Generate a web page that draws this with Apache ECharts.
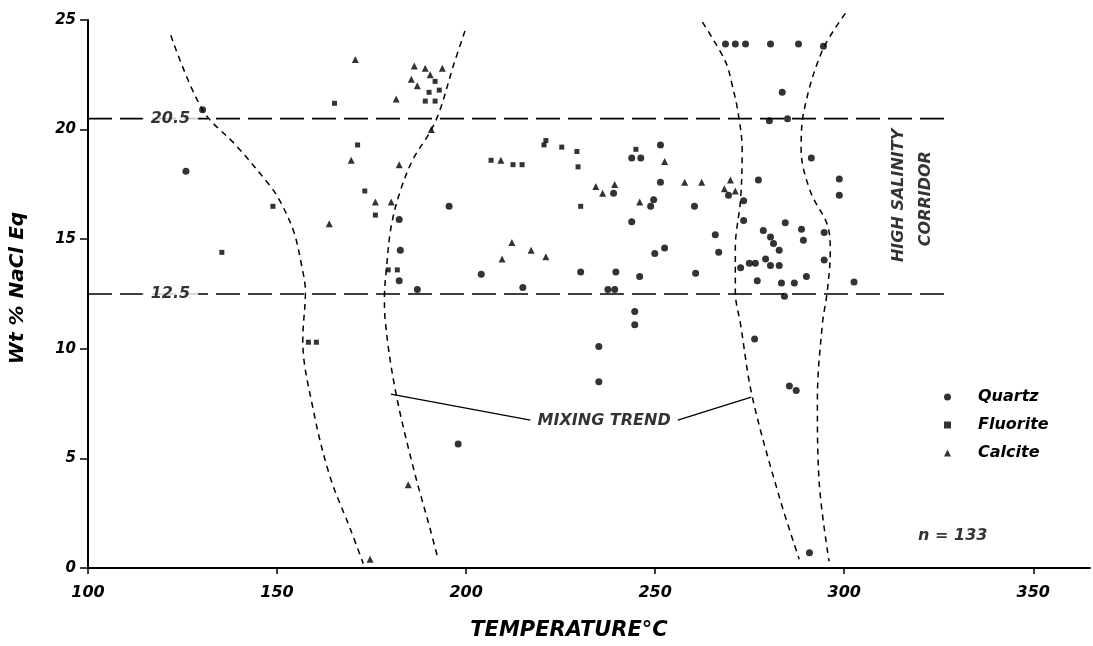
<!DOCTYPE html>
<html><head><meta charset="utf-8">
<script src="https://cdn.jsdelivr.net/npm/echarts@6/dist/echarts.min.js"></script>
<style>html,body{margin:0;padding:0;background:#fff}#c{width:1093px;height:646px}</style>
</head><body><div id="c"></div>
<script>
// ---- axes ----
const xTicks = [100, 150, 200, 250, 300, 350];
const yTicks = [0, 5, 10, 15, 20, 25];
const xName = 'TEMPERATURE°C';
const yName = 'Wt % NaCl Eq';
const seriesNames = ['Quartz', 'Fluorite', 'Calcite'];

// ---- data points [temperature, wt% NaCl eq] ----
const quartz = [
  [130.3,20.9],[125.9,18.1],
  [182.3,15.9],[195.5,16.5],[182.6,14.5],[182.3,13.1],[187.1,12.7],
  [204.0,13.4],[215.0,12.8],[230.3,13.5],[239.6,13.5],[245.9,13.3],[237.5,12.7],[239.3,12.7],
  [239.0,17.1],[248.8,16.5],[249.6,16.8],[243.8,18.7],[246.2,18.7],[251.4,19.3],[251.4,17.6],
  [269.4,17.0],[260.4,16.5],[243.8,15.8],[249.9,14.35],[252.5,14.6],[260.7,13.45],[265.9,15.2],
  [266.8,14.4],[244.6,11.7],[244.6,11.1],[268.6,23.9],
  [235.1,10.1],[235.1,8.5],[197.9,5.66],
  [271.2,23.9],[273.9,23.9],[280.5,23.9],[287.9,23.9],[294.5,23.8],
  [283.6,21.7],[280.2,20.4],[285.0,20.5],[291.3,18.7],[277.3,17.7],[298.7,17.75],[298.7,17.0],
  [273.4,16.75],[273.4,15.85],[284.4,15.75],[278.6,15.4],[280.5,15.1],[281.3,14.8],[282.8,14.5],
  [288.7,15.45],[289.2,14.95],[294.7,15.3],[294.7,14.05],
  [272.6,13.7],[274.9,13.9],[276.5,13.9],[279.2,14.1],[280.5,13.8],[282.8,13.8],[277.0,13.1],
  [283.4,13.0],[286.8,13.0],[290.0,13.3],[302.6,13.05],[284.2,12.4],
  [276.3,10.45],[285.5,8.3],[287.3,8.1],[290.8,0.7]
];
const fluorite = [
  [148.9,16.5],[135.4,14.4],[165.2,21.2],[171.3,19.3],[173.2,17.2],[176.0,16.1],[158.3,10.3],[160.4,10.3],
  [191.8,22.2],[190.2,21.7],[192.9,21.8],[189.2,21.3],[191.8,21.3],
  [179.4,13.6],[181.8,13.6],
  [206.6,18.6],[212.4,18.4],[214.8,18.4],[220.6,19.3],[221.1,19.5],[225.3,19.2],[229.3,19.0],
  [229.6,18.3],[230.3,16.5],[244.9,19.1]
];
const calcite = [
  [170.7,23.2],[169.6,18.6],[163.8,15.7],
  [186.3,22.9],[189.2,22.8],[193.7,22.8],[185.5,22.3],[190.5,22.5],[187.1,22.0],[181.5,21.4],
  [190.8,20.0],[182.3,18.4],[176.0,16.7],[180.2,16.7],
  [209.2,18.6],[234.3,17.4],[236.1,17.1],[239.3,17.5],[245.9,16.7],[252.5,18.55],[257.8,17.6],
  [262.3,17.6],[269.9,17.7],[268.3,17.3],[271.2,17.2],
  [212.1,14.85],[209.5,14.1],[217.2,14.5],[221.1,14.2],
  [184.7,3.8],[174.6,0.4]
];

// ---- hand-drawn envelope curves (dashed) ----
const curveA = [[121.9,24.3],[130.3,20.9],[139.3,19.25],[148.3,17.4],[150.9,16.7],[154.4,15.35],[156.5,13.8],[157.5,12.6],[156.8,10.4],[159.6,7.2],[164.0,4.17],[169.4,1.77],[172.8,0.2]];
const curveB = [[199.7,24.5],[196.6,22.9],[193.1,20.9],[190.5,19.9],[186.0,18.66],[182.6,17.2],[180.2,15.6],[179.0,13.8],[178.4,12.3],[178.6,11.3],[181.3,8.1],[186.0,4.6],[190.5,1.77],[192.6,0.4]];
const curveC = [[262.5,24.9],[268.6,23.1],[270.4,22.0],[271.8,20.9],[273.0,19.1],[272.6,16.85],[271.2,14.6],[271.2,12.6],[272.6,11.1],[275.7,7.8],[282.8,3.26],[288.1,0.4]];
const curveD = [[300.3,25.3],[294.2,23.6],[289.4,20.9],[288.6,19.1],[291.0,17.2],[295.8,15.5],[296.3,14.4],[295.5,12.6],[294.2,11.1],[292.9,7.65],[293.4,3.85],[296.0,0.3]];

// ---- salinity corridor bounds ----
const corridorLevels = [20.5, 12.5];
const corridorXRange = [100, 328];
const corridorLabelX = 121.8;

// ---- mixing trend pointer lines ----
const mixLeft = [[217.0,6.75],[180.1,7.93]];
const mixRight = [[256.0,6.75],[275.4,7.79]];

// ---- annotations [x, y, text, rotate] ----
const annotations = [
  [236.5, 6.7, 'MIXING TREND', 0],
  [328.7, 1.45, 'n = 133', 0],
  [314.4, 17.0, 'HIGH SALINITY', 90],
  [321.5, 16.85, 'CORRIDOR', 90]
];

const FONT = 'DejaVu Sans';
const ink = '#000';
const tStyle = (size) => ({ fontFamily: FONT, fontStyle: 'italic', fontWeight: 'bold', fontSize: size, color: ink });

const curveSeries = [curveA, curveB, curveC, curveD].map(c => ({
  type: 'line', data: c, smooth: 0.35, symbol: 'none', silent: true, clip: false,
  lineStyle: { color: ink, width: 1.5, type: [6, 5] }, z: 1
}));

const corridorSeries = corridorLevels.map(v => ({
  type: 'line', data: [[corridorXRange[0], v], [corridorXRange[1], v]], symbol: 'none', silent: true,
  lineStyle: { color: ink, width: 1.6, type: [24, 8] }, z: 1
}));

const corridorLabels = {
  type: 'scatter', silent: true, symbolSize: 0, z: 5,
  data: corridorLevels.map(v => ({ value: [corridorLabelX, v], label: { formatter: String(v) } })),
  label: { show: true, position: 'inside', backgroundColor: '#fff', padding: [2, 8], ...tStyle(16) }
};

const mixSeries = [mixLeft, mixRight].map(d => ({
  type: 'line', data: d, symbol: 'none', silent: true,
  lineStyle: { color: ink, width: 1.3 }, z: 2
}));

const annotationSeries = {
  type: 'scatter', silent: true, symbolSize: 0, z: 5,
  data: annotations.map(a => ({ value: [a[0], a[1]], label: { formatter: a[2], rotate: a[3] } })),
  label: { show: true, position: 'inside', ...tStyle(16) }
};

const chart = echarts.init(document.getElementById('c'), null, { renderer: 'canvas' });
chart.setOption({
  backgroundColor: '#fff',
  animation: false,
  grid: { left: 84, right: 3, top: 20, bottom: 74, containLabel: false },
  xAxis: {
    type: 'value', min: 100, max: 365, interval: 50,
    name: xName, nameLocation: 'middle', nameGap: 52,
    nameTextStyle: { ...tStyle(21), padding: [0, 40, 0, 0] },
    axisLine: { lineStyle: { color: ink, width: 2 } },
    axisTick: { length: 6, lineStyle: { color: ink, width: 1.5 } },
    axisLabel: { margin: 17, showMaxLabel: false, ...tStyle(16), formatter: v => xTicks.includes(v) ? String(v) : '' },
    splitLine: { show: false }
  },
  yAxis: {
    type: 'value', min: 0, max: 25, interval: 5,
    name: yName, nameLocation: 'middle', nameGap: 60,
    nameTextStyle: { ...tStyle(20), padding: [0, 0, 0, 12] },
    axisLine: { lineStyle: { color: ink, width: 2 } },
    axisTick: { length: 8, lineStyle: { color: ink, width: 1.5 } },
    axisLabel: { margin: 12, ...tStyle(15), formatter: v => yTicks.includes(v) ? String(v) : '' },
    splitLine: { show: false }
  },
  legend: {
    data: [
      { name: seriesNames[0], icon: 'circle', itemStyle: { color: ink } },
      { name: seriesNames[1], icon: 'rect', itemStyle: { color: ink } },
      { name: seriesNames[2], icon: 'triangle', itemStyle: { color: ink } }
    ],
    orient: 'vertical', left: 939, top: 384,
    itemWidth: 7, itemHeight: 7, itemGap: 12,
    textStyle: { ...tStyle(16), padding: [0, 0, 0, 22] }, selectedMode: false
  },
  series: [
    ...curveSeries,
    ...corridorSeries,
    corridorLabels,
    ...mixSeries,
    annotationSeries,
    { name: seriesNames[0], type: 'scatter', data: quartz, symbol: 'circle', symbolSize: 7, itemStyle: { color: ink }, z: 4 },
    { name: seriesNames[1], type: 'scatter', data: fluorite, symbol: 'rect', symbolSize: 5, itemStyle: { color: ink }, z: 4 },
    { name: seriesNames[2], type: 'scatter', data: calcite, symbol: 'triangle', symbolSize: 7, itemStyle: { color: ink }, z: 4 }
  ]
});
</script>
</body></html>
